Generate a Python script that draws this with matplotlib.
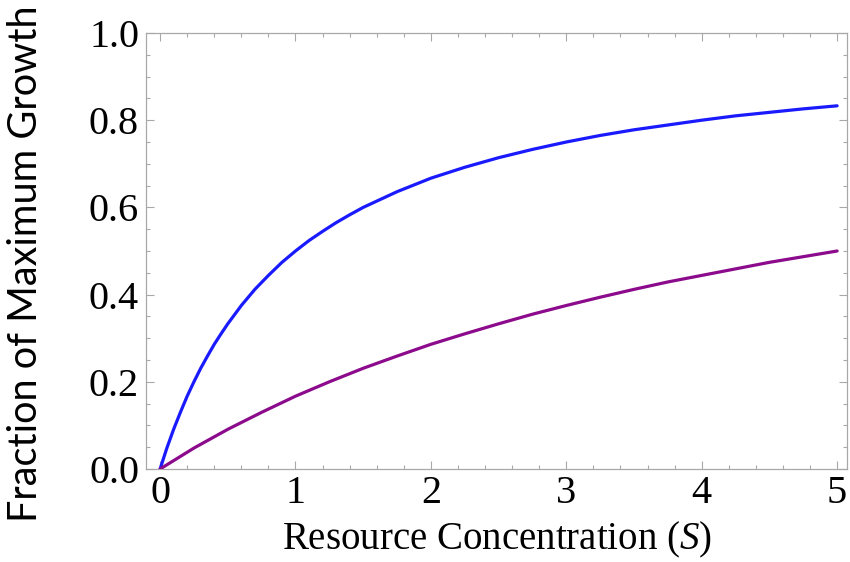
import matplotlib
matplotlib.use('Agg')
import numpy as np
import matplotlib.pyplot as plt
from matplotlib.ticker import MultipleLocator

# resource concentration S and growth fraction
s_fast = [0, 0.025, 0.05, 0.1, 0.15, 0.2, 0.25, 0.3, 0.35, 0.4, 0.45, 0.5, 0.6, 0.7, 0.8,
          0.9, 1.0, 1.1, 1.2, 1.3, 1.4, 1.5, 1.75, 2.0, 2.25, 2.5, 2.75, 3.0, 3.25, 3.5,
          3.75, 4.0, 4.25, 4.5, 4.75, 5.0]
growth_fast = [0, 0.024, 0.048, 0.091, 0.13, 0.167, 0.2, 0.231, 0.259, 0.286, 0.31, 0.333,
               0.375, 0.412, 0.444, 0.474, 0.5, 0.524, 0.545, 0.565, 0.583, 0.6, 0.636,
               0.667, 0.692, 0.714, 0.733, 0.75, 0.765, 0.778, 0.789, 0.8, 0.81, 0.818,
               0.826, 0.833]
s_slow = [0, 0.25, 0.5, 0.75, 1.0, 1.25, 1.5, 1.75, 2.0, 2.25, 2.5, 2.75, 3.0, 3.25, 3.5,
          3.75, 4.0, 4.25, 4.5, 4.75, 5.0]
growth_slow = [0, 0.048, 0.091, 0.13, 0.167, 0.2, 0.231, 0.259, 0.286, 0.31, 0.333, 0.355,
               0.375, 0.394, 0.412, 0.429, 0.444, 0.459, 0.474, 0.487, 0.5]

FRAME = "#a8a8a8"
plt.rcParams['mathtext.fontset'] = 'custom'
plt.rcParams['mathtext.it'] = 'Liberation Serif:italic'
plt.rcParams['mathtext.rm'] = 'Liberation Serif'

fig = plt.figure(figsize=(8.5, 5.62), dpi=100)
ax = fig.add_axes([146 / 850, 93 / 562, 701 / 850, 436 / 562])

ax.plot(s_fast, growth_fast, color="#1a1aff", lw=2.3, solid_capstyle="round",
        solid_joinstyle="round", zorder=3)
ax.plot(s_slow, growth_slow, color="#8c0a8c", lw=2.3, solid_capstyle="round",
        solid_joinstyle="round", zorder=3)

ax.set_xlim(-0.104, 5.073)
ax.set_ylim(0, 1.0)

ax.xaxis.set_major_locator(MultipleLocator(1))
ax.xaxis.set_minor_locator(MultipleLocator(0.2))
ax.yaxis.set_major_locator(MultipleLocator(0.2))
ax.yaxis.set_minor_locator(MultipleLocator(0.05))
ax.yaxis.set_major_formatter(lambda v, p: f"{v:.1f}")

for sp in ax.spines.values():
    sp.set_color(FRAME)
    sp.set_linewidth(0.9)

ax.tick_params(which="both", direction="in", top=True, right=True, color=FRAME,
               width=0.8, labelsize=29, labelfontfamily="Liberation Serif")
ax.tick_params(which="major", length=5.5, pad=5)
ax.tick_params(which="minor", length=3)
ax.tick_params(axis="x", pad=4)

ax.set_xlabel("Resource Concentration ($\\mathit{S}$)", family="Liberation Serif",
              fontsize=28, labelpad=6)
ax.set_ylabel("Fraction of Maximum Growth", family="Lato", fontsize=28.5)
ax.yaxis.set_label_coords(-0.146, 0.47)

fig.savefig("out.png", dpi=100)
